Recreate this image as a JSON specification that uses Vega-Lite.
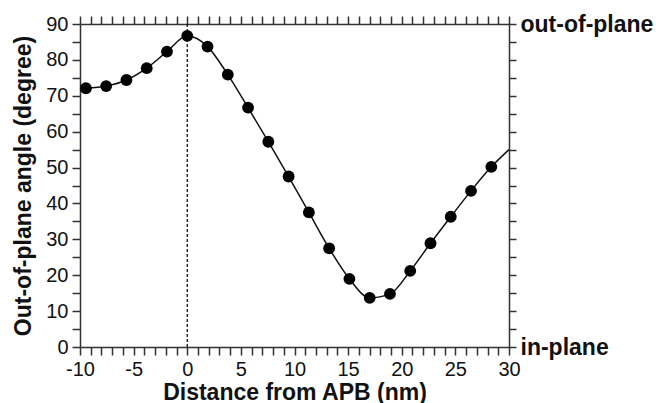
{
  "$schema": "https://vega.github.io/schema/vega-lite/v6.json",
  "width": 429,
  "height": 323,
  "autosize": {"type": "none"},
  "padding": {"left": 80, "top": 24, "right": 147, "bottom": 56},
  "background": "white",
  "config": {
    "view": {"stroke": null},
    "font": "Liberation Sans",
    "axis": {
      "grid": false,
      "domainColor": "#333333",
      "domainWidth": 1.5,
      "tickColor": "#333333",
      "tickWidth": 1.5,
      "labelColor": "#111111",
      "titleColor": "#111111",
      "labelFont": "Liberation Sans",
      "titleFont": "Liberation Sans"
    }
  },
  "data": {
    "values": [
      {"x": -9.45, "y": 72.1, "marker": 1},
      {"x": -7.56, "y": 72.7, "marker": 1},
      {"x": -5.67, "y": 74.4, "marker": 1},
      {"x": -3.78, "y": 77.7, "marker": 1},
      {"x": -1.89, "y": 82.3, "marker": 1},
      {"x": 0, "y": 86.7, "marker": 1},
      {"x": 1.89, "y": 83.7, "marker": 1},
      {"x": 3.78, "y": 75.9, "marker": 1},
      {"x": 5.67, "y": 66.7, "marker": 1},
      {"x": 7.56, "y": 57.2, "marker": 1},
      {"x": 9.45, "y": 47.5, "marker": 1},
      {"x": 11.34, "y": 37.5, "marker": 1},
      {"x": 13.23, "y": 27.5, "marker": 1},
      {"x": 15.12, "y": 19.0, "marker": 1},
      {"x": 17.01, "y": 13.7, "marker": 1},
      {"x": 18.9, "y": 14.8, "marker": 1},
      {"x": 20.79, "y": 21.2, "marker": 1},
      {"x": 22.68, "y": 28.9, "marker": 1},
      {"x": 24.57, "y": 36.3, "marker": 1},
      {"x": 26.46, "y": 43.5, "marker": 1},
      {"x": 28.35, "y": 50.2, "marker": 1},
      {"x": 30, "y": 55.0, "marker": 0}
    ]
  },
  "layer": [
    {
      "data": {"values": [{"x": 0, "y": 0, "y2": 90}]},
      "mark": {"type": "rule", "strokeDash": [3, 2], "color": "#111111", "strokeWidth": 1.3},
      "encoding": {
        "x": {
          "field": "x",
          "type": "quantitative",
          "scale": {"domain": [-10, 30], "nice": false, "zero": false},
          "axis": {
            "orient": "bottom",
            "values": [-10,-9,-8,-7,-6,-5,-4,-3,-2,-1,0,1,2,3,4,5,6,7,8,9,10,11,12,13,14,15,16,17,18,19,20,21,22,23,24,25,26,27,28,29,30],
            "labelExpr": "datum.value % 5 === 0 ? '' + datum.value : ''",
            "tickSize": 8,
            "labelPadding": 4,
            "labelFontSize": 20,
            "labelFlush": false,
            "labelOverlap": false,
            "title": "Distance from APB (nm)",
            "titleFontSize": 23,
            "titleFontWeight": "bold",
            "titleX": 214.5,
            "titleY": 52,
            "titleBaseline": "alphabetic",
            "titleAlign": "center",
            "encode": {"ticks": {"update": {"y": {"value": -5}, "y2": {"signal": "datum.value % 5 === 0 ? 8 : 0"}}}}
          }
        },
        "y": {
          "field": "y",
          "type": "quantitative",
          "scale": {"domain": [0, 90], "nice": false, "zero": false},
          "axis": {
            "orient": "left",
            "values": [0,5,10,15,20,25,30,35,40,45,50,55,60,65,70,75,80,85,90],
            "labelExpr": "datum.value % 10 === 0 ? '' + datum.value : ''",
            "tickSize": 8,
            "labelPadding": 4,
            "labelFontSize": 20,
            "labelFlush": false,
            "labelOverlap": false,
            "title": "Out-of-plane angle (degree)",
            "titleFontSize": 23,
            "titleFontWeight": "bold",
            "titleAngle": 270,
            "titleX": -50,
            "titleY": 161.5,
            "titleBaseline": "alphabetic",
            "titleAlign": "center",
            "encode": {"ticks": {"update": {"x2": {"signal": "datum.value % 10 === 0 ? -8 : -4"}}}}
          }
        },
        "y2": {"field": "y2"}
      }
    },
    {
      "mark": {"type": "line", "color": "#111111", "strokeWidth": 1.5, "interpolate": "monotone"},
      "encoding": {
        "x": {"field": "x", "type": "quantitative", "axis": null},
        "y": {"field": "y", "type": "quantitative", "axis": null}
      }
    },
    {
      "transform": [{"filter": "datum.marker === 1"}],
      "mark": {"type": "circle", "color": "#000000", "size": 140, "opacity": 1},
      "encoding": {
        "x": {
          "field": "x",
          "type": "quantitative",
          "axis": {
            "orient": "top",
            "values": [-10,-9,-8,-7,-6,-5,-4,-3,-2,-1,0,1,2,3,4,5,6,7,8,9,10,11,12,13,14,15,16,17,18,19,20,21,22,23,24,25,26,27,28,29,30],
            "labels": false,
            "title": null,
            "tickSize": 8,
            "encode": {"ticks": {"update": {"y2": {"signal": "datum.value % 5 === 0 ? -8 : -4"}}}}
          }
        },
        "y": {
          "field": "y",
          "type": "quantitative",
          "axis": {
            "orient": "right",
            "values": [0,5,10,15,20,25,30,35,40,45,50,55,60,65,70,75,80,85,90],
            "labelExpr": "datum.value === 90 ? 'out-of-plane' : datum.value === 0 ? 'in-plane' : ''",
            "tickSize": 7,
            "labelPadding": 4,
            "labelFontSize": 23,
            "labelFontWeight": "bold",
            "labelOverlap": false,
            "labelBound": false,
            "labelFlush": false,
            "title": null
          }
        }
      }
    }
  ],
  "resolve": {"axis": {"x": "independent", "y": "independent"}}
}
